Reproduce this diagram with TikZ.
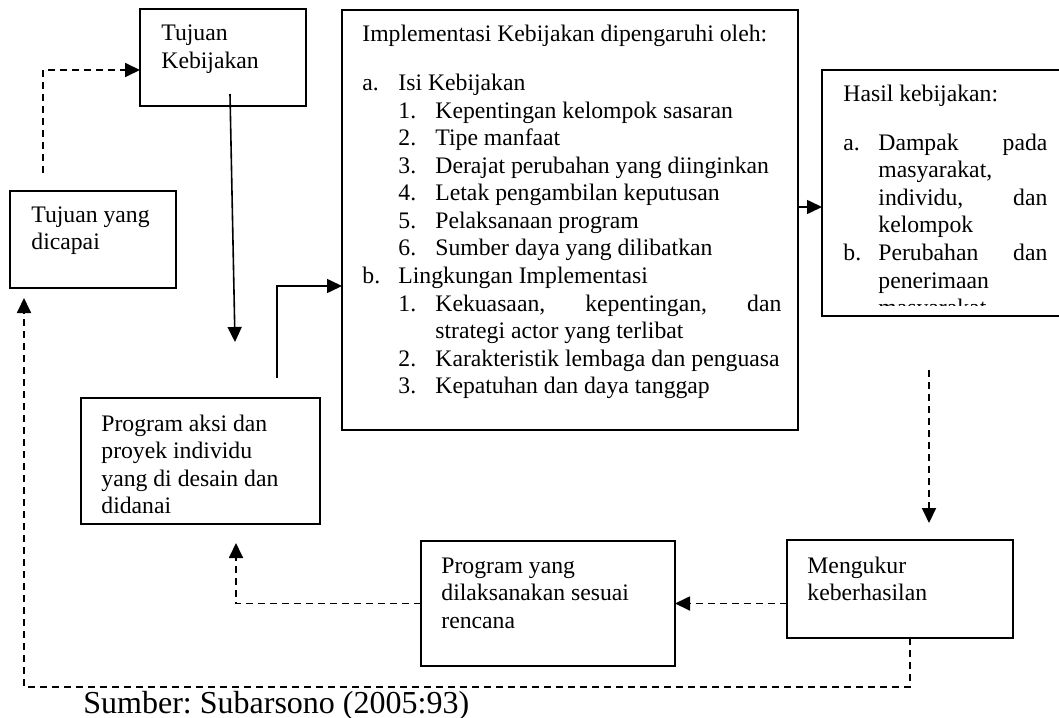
\documentclass[tikz,border=0pt]{standalone}
\usepackage{fontspec}
\setmainfont{Liberation Serif}
\newfontfamily\srcfont{Liberation Serif}
\usetikzlibrary{arrows.meta, calc}
\frenchspacing

\newcommand{\boxfont}{\fontsize{11.85pt}{13.75pt}\selectfont}
\newcommand{\inbox}[2]{\parbox[t]{#1}{\raggedright #2}}
\newcommand{\boxitem}[4]{\par\leftskip=#1\relax\hangindent=#2\relax\hangafter=1\noindent\makebox[#2][l]{#3}#4\par}

\begin{document}
\begin{tikzpicture}[x=0.5pt, y=-0.5pt,
    box/.style={draw, line width=1pt, anchor=north west, inner sep=0pt, outer sep=0pt},
    txt/.style={anchor=base west, inner sep=0pt, font=\boxfont},
    solidline/.style={->, line width=0.8pt},
    dashline/.style={->, line width=0.9pt, dash pattern=on 3.5pt off 2.5pt},
    >={Triangle[length=7.5pt, width=7pt]}]
    \useasboundingbox (0,0) rectangle (1059,717);

    % boxes
    \node[box, minimum width=83pt, minimum height=48.5pt] (tujuan) at (140,9) {};
    \node[box, minimum width=83pt, minimum height=48.5pt] (capai) at (10,191) {};
    \node[box, minimum width=228pt, minimum height=210pt] (impl) at (342,10) {};
    \node[box, minimum width=120pt, minimum height=123pt] (hasil) at (822,70) {};
    \node[box, minimum width=119.5pt, minimum height=63pt] (aksi) at (81,398) {};
    \node[box, minimum width=127pt, minimum height=62.5pt] (sesuai) at (421,541) {};
    \node[box, minimum width=113pt, minimum height=49pt] (ukur) at (787,540) {};

    % texts
    \node[txt] (tujuantxt) at ([shift={(21,32)}]tujuan.north west) {\inbox{80pt}{Tujuan\\Kebijakan}};
    \node[txt] (capaitxt) at ([shift={(21,31)}]capai.north west) {\inbox{80pt}{Tujuan yang\\dicapai}};
    \node[txt] (aksitxt) at ([shift={(20,33)}]aksi.north west) {\inbox{110pt}{Program aksi dan\\proyek individu\\yang di desain dan\\didanai}};
    \node[txt] (sesuaitxt) at ([shift={(20,32)}]sesuai.north west) {\inbox{115pt}{Program yang\\dilaksanakan sesuai\\rencana}};
    \node[txt] (ukurtxt) at ([shift={(20,33)}]ukur.north west) {\inbox{100pt}{Mengukur\\keberhasilan}};
    \node[txt] (impltxt) at ([shift={(20,32)}]impl.north west) {\parbox[t]{209.5pt}{\tolerance=10000\hyphenpenalty=10000
        \noindent Implementasi Kebijakan dipengaruhi oleh:\par\vspace{10.75pt}
        \boxitem{0pt}{18pt}{a.}{Isi Kebijakan}
        \boxitem{18pt}{18.5pt}{1.}{Kepentingan kelompok sasaran}
        \boxitem{18pt}{18.5pt}{2.}{Tipe manfaat}
        \boxitem{18pt}{18.5pt}{3.}{Derajat perubahan yang diinginkan}
        \boxitem{18pt}{18.5pt}{4.}{Letak pengambilan keputusan}
        \boxitem{18pt}{18.5pt}{5.}{Pelaksanaan program}
        \boxitem{18pt}{18.5pt}{6.}{Sumber daya yang dilibatkan}
        \boxitem{0pt}{18pt}{b.}{Lingkungan Implementasi}
        \boxitem{18pt}{18.5pt}{1.}{Kekuasaan, kepentingan, dan strategi actor yang terlibat}
        \boxitem{18pt}{18.5pt}{2.}{Karakteristik lembaga dan penguasa}
        \boxitem{18pt}{18.5pt}{3.}{Kepatuhan dan daya tanggap}}};
    \begin{scope}
        \clip (hasil.north west) rectangle ([shift={(0,-11)}]hasil.south east);
        \node[txt] (hasiltxt) at ([shift={(21,32)}]hasil.north west) {\parbox[t]{102pt}{\tolerance=10000\hyphenpenalty=10000
            \noindent Hasil kebijakan:\par\vspace{10.5pt}
            \boxitem{0pt}{17.5pt}{a.}{Dampak pada\linebreak masyarakat,\linebreak individu, dan\linebreak kelompok}
            \boxitem{0pt}{17.5pt}{b.}{Perubahan dan\linebreak penerimaan\linebreak masyarakat}}};
    \end{scope}
    \node[anchor=base west, inner sep=0pt, font=\srcfont\fontsize{16pt}{19pt}\selectfont] (sumber) at (83,713) {Sumber: Subarsono (2005:93)};

    % connectors
    \coordinate (capaiup) at ([shift={(33,-18)}]capai.north west);
    \draw[dashline] (capaiup) |- ([shift={(0,61)}]tujuan.north west);
    \coordinate (tujuanout) at ([shift={(7,-12)}]tujuan.south);
    \coordinate (aksiin) at ([shift={(34.5,-56)}]aksi.north);
    \draw[solidline] (tujuanout) -- (aksiin);
    \coordinate (aksiout) at ([shift={(76.5,-20)}]aksi.north);
    \draw[solidline] (aksiout) |- ([shift={(0,276)}]impl.north west);
    \draw[solidline] ([shift={(0,197)}]impl.north east) -- ([shift={(0,137)}]hasil.north west);
    \coordinate (hasilout) at ([shift={(29,-170)}]ukur.north);
    \coordinate (ukurin) at ([shift={(29,-17)}]ukur.north);
    \draw[dashline] (hasilout) -- (ukurin);
    \draw[dashline] (ukur.west |- sesuai.east) -- (sesuai.east);
    \coordinate (aksiback) at ([shift={(35.5,19)}]aksi.south);
    \draw[dashline] (sesuai.west) -| (aksiback);
    \coordinate (ukurout) at ([shift={(10,0)}]ukur.south);
    \coordinate (capaiin) at ([shift={(14,10)}]capai.south west);
    \draw[dashline] (ukurout) -- ++(0,49) -| (capaiin);
\end{tikzpicture}
\end{document}
